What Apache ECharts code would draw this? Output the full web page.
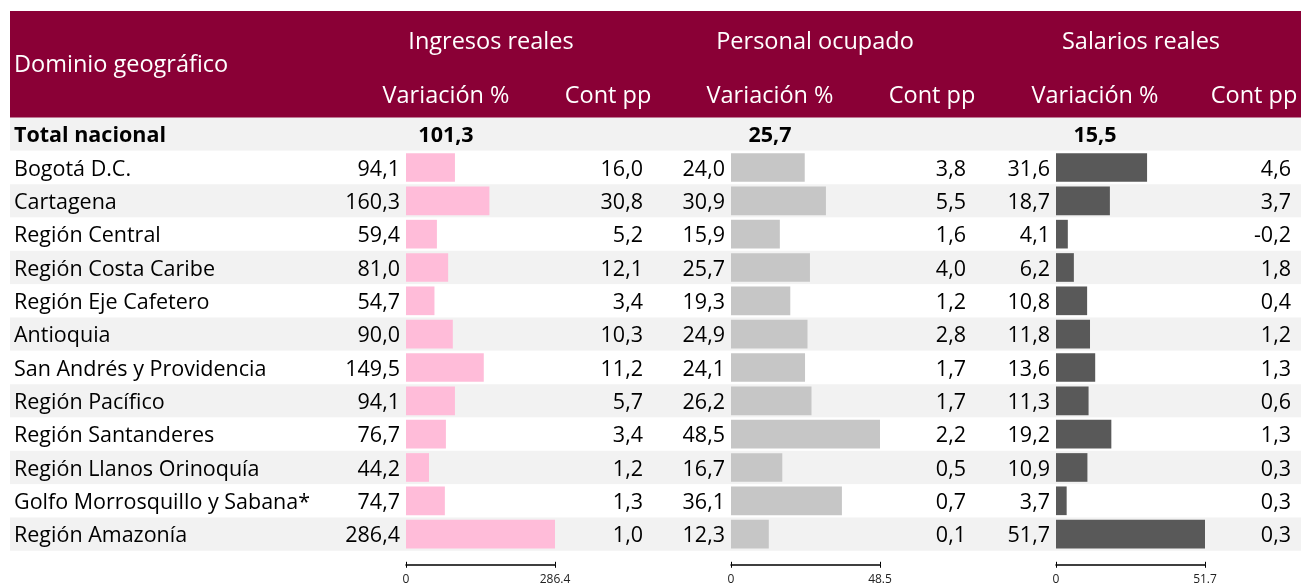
<!DOCTYPE html>
<html>
<head>
<meta charset="utf-8">
<title>Dominio geográfico</title>
<script src="https://cdn.jsdelivr.net/npm/echarts@6/dist/echarts.min.js"></script>
<style>
  html, body { margin: 0; padding: 0; background: #fff; }
  #chart { width: 1301px; height: 588px; }
</style>
</head>
<body>
<div id="chart"></div>
<script>
// datos
const dominios = [
  "Bogotá D.C.",
  "Cartagena",
  "Región Central",
  "Región Costa Caribe",
  "Región Eje Cafetero",
  "Antioquia",
  "San Andrés y Providencia",
  "Región Pacífico",
  "Región Santanderes",
  "Región Llanos Orinoquía",
  "Golfo Morrosquillo y Sabana*",
  "Región Amazonía",
];
const totalLabel = "Total nacional";

const ingresosVar = [94.1, 160.3, 59.4, 81.0, 54.7, 90.0, 149.5, 94.1, 76.7, 44.2, 74.7, 286.4];
const ingresosCont = [16.0, 30.8, 5.2, 12.1, 3.4, 10.3, 11.2, 5.7, 3.4, 1.2, 1.3, 1.0];
const personalVar = [24.0, 30.9, 15.9, 25.7, 19.3, 24.9, 24.1, 26.2, 48.5, 16.7, 36.1, 12.3];
const personalCont = [3.8, 5.5, 1.6, 4.0, 1.2, 2.8, 1.7, 1.7, 2.2, 0.5, 0.7, 0.1];
const salariosVar = [31.6, 18.7, 4.1, 6.2, 10.8, 11.8, 13.6, 11.3, 19.2, 10.9, 3.7, 51.7];
const salariosCont = [4.6, 3.7, -0.2, 1.8, 0.4, 1.2, 1.3, 0.6, 1.3, 0.3, 0.3, 0.3];

const totales = [101.3, 25.7, 15.5];
const grupos = ["Ingresos reales", "Personal ocupado", "Salarios reales"];
const axisMax = [286.4, 48.5, 51.7];

const FONT = "Open Sans";
const BODY = 21.5;
const HEAD = 23.5;
const PAD = [4, 0, 0, 0]; // baja un poco el texto dentro de la fila
const fmt = (v) => v.toFixed(1).replace(".", ",");
const richNum = { n: { fontSize: BODY, fontFamily: FONT, color: "#000" } };

const chart = echarts.init(document.getElementById("chart"));

const colLeft = [406, 731, 1056];
const colWidth = 149;
const contMargin = [88, 86, 86];
const barColors = ["#FFBCD9", "#C6C6C6", "#595959"];
const varCenter = [446, 770, 1095];
const contCenter = [608, 932, 1254];
const grupoCenter = [491, 815, 1141];
const seriesVar = [ingresosVar, personalVar, salariosVar];
const seriesCont = [ingresosCont, personalCont, salariosCont];

const rowH = 33.33;
const topTable = 117.5;

const grids = [{ left: 10, right: 0, top: topTable, height: rowH * 13 }];
const xAxes = [{ gridIndex: 0, show: false, min: 0, max: 1 }];
const yAxes = [{
  gridIndex: 0,
  type: "category",
  inverse: true,
  data: [totalLabel].concat(dominios),
  axisLine: { show: false },
  axisTick: { show: false },
  splitArea: { show: true, areaStyle: { color: ["#F2F2F2", "#FFFFFF"] } },
  axisLabel: {
    inside: true,
    margin: 4,
    color: "#000",
    fontFamily: FONT,
    fontSize: BODY,
    padding: PAD,
    formatter: (v, i) => (i === 0 ? "{b|" + v + "}" : v),
    rich: { b: { fontWeight: "bold", fontSize: BODY, fontFamily: FONT, color: "#000" } },
  },
}];
const series = [];

for (let k = 0; k < 3; k++) {
  const g = k + 1;
  grids.push({ left: colLeft[k], width: colWidth, top: topTable + rowH, height: rowH * 12 });
  const tickBase = {
    gridIndex: g,
    type: "value",
    min: 0,
    max: axisMax[k],
    position: "bottom",
    offset: 14,
    splitLine: { show: false },
    axisTick: { show: true, customValues: [0, axisMax[k]], length: 3, lineStyle: { color: "#000" } },
  };
  xAxes.push(Object.assign({}, tickBase, {
    axisLine: { show: true, lineStyle: { color: "#000", width: 1.5 } },
    axisLabel: {
      customValues: [0, axisMax[k]],
      margin: 9,
      fontSize: 12,
      color: "#222",
      fontFamily: FONT,
      formatter: (v) => (v === 0 ? "0" : String(v)),
    },
  }));
  xAxes.push(Object.assign({}, tickBase, {
    axisLine: { show: false },
    axisLabel: { show: false },
    axisTick: Object.assign({}, tickBase.axisTick, { inside: true }),
  }));
  yAxes.push({
    gridIndex: g,
    type: "category",
    inverse: true,
    data: dominios,
    axisLine: { show: false },
    axisTick: { show: false },
    axisLabel: { show: false },
  });
  const cont = seriesCont[k];
  yAxes.push({
    gridIndex: g,
    type: "category",
    inverse: true,
    position: "right",
    data: dominios,
    axisLine: { show: false },
    axisTick: { show: false },
    axisLabel: {
      align: "right",
      margin: contMargin[k],
      color: "#000",
      fontFamily: FONT,
      fontSize: BODY,
      padding: PAD,
      formatter: (v, i) => "{n|" + fmt(cont[i]) + "}",
      rich: richNum,
    },
  });
  series.push({
    type: "bar",
    xAxisIndex: 1 + k * 2,
    yAxisIndex: 1 + k * 2,
    data: seriesVar[k],
    barCategoryGap: "14%",
    itemStyle: { color: barColors[k] },
    label: {
      show: true,
      position: "left",
      distance: 6,
      offset: [0, 2],
      color: "#000",
      fontFamily: FONT,
      fontSize: BODY,
      formatter: (p) => fmt(p.value),
    },
    silent: true,
  });
}

const headerText = (text, x, y, align) => ({
  type: "text",
  x: x,
  y: y,
  z: 100,
  style: {
    text: text,
    fill: "#fff",
    font: HEAD + "px '" + FONT + "'",
    align: align || "center",
    verticalAlign: "middle",
  },
});

const graphic = [
  { type: "rect", shape: { x: 10, y: 11, width: 1291, height: 107 }, style: { fill: "#8A0036" }, z: -1 },
  headerText("Dominio geográfico", 14, 65.5, "left"),
];
for (let k = 0; k < 3; k++) {
  graphic.push(headerText(grupos[k], grupoCenter[k], 42.5));
  graphic.push(headerText("Variación %", varCenter[k], 96));
  graphic.push(headerText("Cont pp", contCenter[k], 96));
  graphic.push({
    type: "text",
    x: varCenter[k],
    y: topTable + rowH / 2 + 2,
    z: 100,
    style: {
      text: fmt(totales[k]),
      fill: "#000",
      font: "bold " + BODY + "px '" + FONT + "'",
      align: "center",
      verticalAlign: "middle",
    },
  });
}

chart.setOption({
  animation: false,
  grid: grids,
  xAxis: xAxes,
  yAxis: yAxes,
  series: series,
  graphic: graphic,
});
</script>
</body>
</html>
